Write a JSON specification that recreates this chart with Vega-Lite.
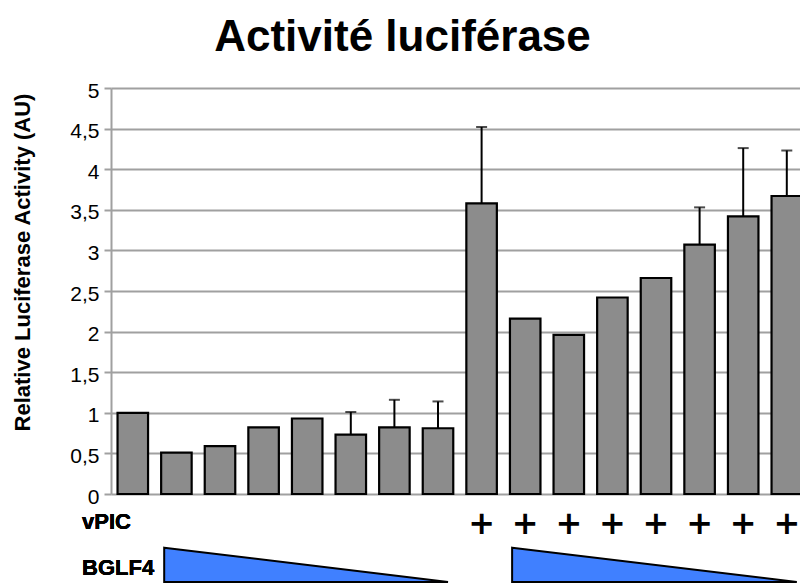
{
  "$schema": "https://vega.github.io/schema/vega-lite/v6.json",
  "width": 689,
  "height": 406,
  "autosize": {"type": "none"},
  "padding": {"left": 111, "top": 88, "right": 0, "bottom": 90},
  "background": "white",
  "config": {"view": {"stroke": null}, "font": "Liberation Sans"},
  "title": {"text": "Activité luciférase", "fontSize": 44, "font": "Liberation Sans", "fontWeight": "bold", "color": "black", "anchor": "middle", "frame": "group", "dx": -53, "baseline": "alphabetic", "offset": -15},
  "datasets": {
    "bars": [
      {"cond": "1", "value": 1.0, "vpic": ""},
      {"cond": "2", "value": 0.51, "vpic": ""},
      {"cond": "3", "value": 0.59, "vpic": ""},
      {"cond": "4", "value": 0.82, "vpic": ""},
      {"cond": "5", "value": 0.93, "vpic": ""},
      {"cond": "6", "value": 0.73, "upper": 1.01, "vpic": ""},
      {"cond": "7", "value": 0.82, "upper": 1.16, "vpic": ""},
      {"cond": "8", "value": 0.81, "upper": 1.14, "vpic": ""},
      {"cond": "9", "value": 3.58, "upper": 4.52, "vpic": "+"},
      {"cond": "10", "value": 2.16, "vpic": "+"},
      {"cond": "11", "value": 1.96, "vpic": "+"},
      {"cond": "12", "value": 2.42, "vpic": "+"},
      {"cond": "13", "value": 2.66, "vpic": "+"},
      {"cond": "14", "value": 3.07, "upper": 3.53, "vpic": "+"},
      {"cond": "15", "value": 3.42, "upper": 4.26, "vpic": "+"},
      {"cond": "16", "value": 3.67, "upper": 4.23, "vpic": "+"}
    ],
    "dose": [
      {"tri": "A", "n": 1.72, "dose": 1},
      {"tri": "A", "n": 8.23, "dose": 0},
      {"tri": "B", "n": 9.7, "dose": 1},
      {"tri": "B", "n": 16.23, "dose": 0}
    ]
  },
  "layer": [
    {
      "data": {"name": "bars"},
      "encoding": {
        "x": {"field": "cond", "type": "ordinal", "sort": null, "scale": {"paddingInner": 0.3, "paddingOuter": 0.15, "range": [0, 697.6]}, "axis": null}
      },
      "layer": [
        {
          "mark": {"type": "bar", "fill": "#8c8c8c", "stroke": "black", "strokeWidth": 2.2},
          "encoding": {
            "y": {"field": "value", "type": "quantitative", "title": "Relative Luciferase Activity (AU)",
              "scale": {"domain": [0, 5], "nice": false, "zero": true},
              "axis": {"values": [0, 0.5, 1, 1.5, 2, 2.5, 3, 3.5, 4, 4.5, 5], "format": "~g", "labelExpr": "replace(datum.label, '.', ',')",
                "grid": true, "gridColor": "#a0a0a0", "gridWidth": 2, "domainColor": "#a0a0a0", "domainWidth": 2,
                "tickColor": "#a0a0a0", "tickWidth": 2, "tickSize": 7,
                "labelFont": "Liberation Sans", "labelFontSize": 21, "labelColor": "black", "labelPadding": 5, "labelOffset": 3,
                "titleFont": "Liberation Sans", "titleFontSize": 22, "titleFontWeight": "bold", "titleColor": "black",
                "titleX": -82, "titleY": 174, "titleAngle": -90, "titleAlign": "center", "titleBaseline": "alphabetic"}
            }
          }
        },
        {
          "transform": [{"filter": "datum.upper != null"}],
          "mark": {"type": "rule", "stroke": "black", "strokeWidth": 2},
          "encoding": {
            "y": {"field": "value", "type": "quantitative", "title": "Relative Luciferase Activity (AU)"},
            "y2": {"field": "upper"}
          }
        },
        {
          "transform": [{"filter": "datum.upper != null"}],
          "mark": {"type": "tick", "color": "black", "thickness": 2, "size": 11, "orient": "horizontal"},
          "encoding": {
            "y": {"field": "upper", "type": "quantitative", "title": "Relative Luciferase Activity (AU)"}
          }
        },
        {
          "transform": [{"filter": "datum.vpic == '+'"}],
          "mark": {"type": "text", "fontSize": 32, "fontWeight": "bold", "font": "DejaVu Sans", "color": "black", "baseline": "middle", "align": "center"},
          "encoding": {
            "y": {"datum": -0.37, "type": "quantitative", "title": "Relative Luciferase Activity (AU)"},
            "text": {"field": "vpic"}
          }
        }
      ]
    },
    {
      "data": {"name": "dose"},
      "encoding": {
        "x": {"field": "n", "type": "quantitative", "scale": {"domain": [0.5, 16.5], "range": [0, 697.6]}, "axis": null}
      },
      "layer": [
        {
          "mark": {"type": "area", "fill": "#4080ff", "stroke": "black", "strokeWidth": 2},
          "encoding": {
            "y": {"field": "dose", "type": "quantitative", "scale": {"domain": [0, 1], "range": [494, 459.7]}, "axis": null},
            "y2": {"datum": 0},
            "detail": {"field": "tri"}
          }
        },
        {
          "mark": {"type": "text", "fontSize": 22, "fontWeight": "bold", "font": "Liberation Sans", "color": "black", "baseline": "middle", "align": "left"},
          "encoding": {
            "x": {"datum": -0.165, "type": "quantitative"},
            "y": {"datum": 1.76, "type": "quantitative"},
            "text": {"value": "vPIC"}
          }
        },
        {
          "mark": {"type": "text", "fontSize": 22, "fontWeight": "bold", "font": "Liberation Sans", "color": "black", "baseline": "middle", "align": "left"},
          "encoding": {
            "x": {"datum": -0.165, "type": "quantitative"},
            "y": {"datum": 0.41, "type": "quantitative"},
            "text": {"value": "BGLF4"}
          }
        }
      ]
    }
  ],
  "resolve": {"scale": {"x": "independent", "y": "independent"}, "axis": {"x": "independent", "y": "independent"}}
}
